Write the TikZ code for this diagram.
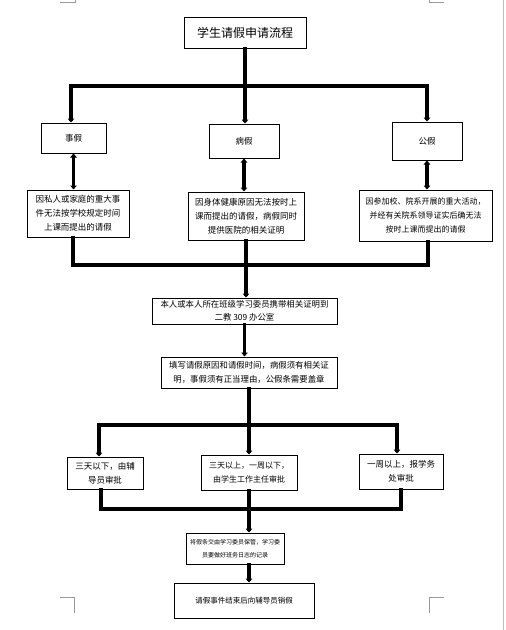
\documentclass[tikz,border=0pt]{standalone}
\usepackage{fontspec}
\newfontfamily\cjk{Noto Sans CJK SC}
\usetikzlibrary{arrows.meta}
\tikzset{
  box/.style={draw, line width=1pt, fill=white, inner sep=1pt, align=center,
    font=\cjk\fontsize{8.5}{14}\selectfont},
  conn/.style={line width=3.5pt, line cap=rect, -{Triangle[width=6.5pt,length=4pt]}},
  dconn/.style={line width=3.5pt, {Triangle[width=6.5pt,length=4pt]}-{Triangle[width=6.5pt,length=4pt]}},
  plain/.style={line width=3.5pt, line cap=rect},
  mark/.style={draw=gray!80, line width=0.8pt}
}
\begin{document}
\begin{tikzpicture}[x=1pt,y=-1pt]
\useasboundingbox (0,0) rectangle (506,630);
\fill[white] (0,0) rectangle (506,630);
% page marks
\draw[draw=gray!80, line width=0.8pt] (60,2) -- (75,2) -- (75,0);
\draw[draw=gray!80, line width=0.8pt] (444,2) -- (429,2) -- (429,0);
\draw[draw=gray!80, line width=0.8pt] (60,597) -- (74,597) -- (74,613);
\draw[draw=gray!80, line width=0.8pt] (444,597) -- (429,597) -- (429,613);
\draw[draw=gray!50, line width=0.8pt] (503,0) -- (503,630);

% nodes
\node[box, minimum width=122pt, minimum height=31pt, font=\cjk\fontsize{12}{14}\selectfont] (title) at (245,32.5) {学生请假申请流程};
\node[box, minimum width=65pt, minimum height=30pt] (shi) at (73.5,138) {事假};
\node[box, minimum width=70pt, minimum height=34pt] (bing) at (244,141) {病假};
\node[box, minimum width=70pt, minimum height=38pt] (gong) at (427,141) {公假};
\node[box, minimum width=102pt, minimum height=47pt] (d1) at (78,213.5) {因私人或家庭的重大事\\件无法按学校规定时间\\上课而提出的请假};
\node[box, minimum width=116pt, minimum height=48pt] (d2) at (246,216) {因身体健康原因无法按时上\\课而提出的请假，病假同时\\提供医院的相关证明};
\node[box, minimum width=133pt, minimum height=51pt, font=\cjk\fontsize{8}{14}\selectfont] (d3) at (425.5,215.5) {因参加校、院系开展的重大活动，\\并经有关院系领导证实后确无法\\按时上课而提出的请假};
\node[box, minimum width=185pt, minimum height=26pt, font=\cjk\fontsize{8.4}{13}\selectfont] (b1) at (244.5,311) {本人或本人所在班级学习委员携带相关证明到\\二教 309 办公室};
\node[box, minimum width=176pt, minimum height=31pt, font=\cjk\fontsize{8.4}{14}\selectfont] (b2) at (249,372.5) {填写请假原因和请假时间，病假须有相关证\\明，事假须有正当理由，公假条需要盖章};
\node[box, minimum width=76pt, minimum height=32pt] (e1) at (105,473) {三天以下，由辅\\导员审批};
\node[box, minimum width=96pt, minimum height=35pt, font=\cjk\fontsize{8}{14}\selectfont] (e2) at (249,472.5) {三天以上，一周以下，\\由学生工作主任审批};
\node[box, minimum width=84pt, minimum height=35pt] (e3) at (401,471.5) {一周以上，报学务\\处审批};
\node[box, minimum width=98pt, minimum height=31pt, font=\cjk\fontsize{6}{13}\selectfont] (f1) at (235,548.5) {将假条交由学习委员保管，学习委\\员要做好班务日志的记录};
\node[box, minimum width=140pt, minimum height=35pt, font=\cjk\fontsize{7.5}{14}\selectfont] (f2) at (244,600.5) {请假事件结束后向辅导员销假};

% bar coordinates
\coordinate (bar1L) at (71,86);
\coordinate (bar1R) at (427,86);
\coordinate (bar2L) at (73,265);
\coordinate (bar2R) at (428,265);
\coordinate (bar3L) at (99,425);
\coordinate (bar3R) at (397,425);
\coordinate (bar4L) at (101,509);
\coordinate (bar4R) at (401,509);

% level 1
\draw[plain] (title.south) -- (title.south |- bar1L);
\draw[plain] (bar1L) -- (bar1R);
\draw[conn] (bar1L) -- (bar1L |- shi.north);
\draw[conn] (title.south |- bar1L) -- (title.south |- bing.north);
\draw[conn] (bar1R) -- (bar1R |- gong.north);
\draw[dconn] (shi.south) -- (shi.south |- d1.north);
\draw[dconn] (bing.south) -- (bing.south |- d2.north);
\draw[dconn] (gong.south) -- (gong.south |- d3.north);

% level 2
\draw[plain] (bar2L |- d1.south) -- (bar2L);
\draw[plain] (d2.south) -- (d2.south |- bar2L);
\draw[plain] (bar2R |- d3.south) -- (bar2R);
\draw[plain] (bar2L) -- (bar2R);
\draw[conn] (d2.south |- bar2L) -- (d2.south |- b1.north);
\draw[conn] (b1.south) -- (b1.south |- b2.north);

% level 3
\draw[plain] (b2.south) -- (b2.south |- bar3L);
\draw[plain] (bar3L) -- (bar3R);
\draw[conn] (bar3L) -- (bar3L |- e1.north);
\draw[conn] (b2.south |- bar3L) -- (b2.south |- e2.north);
\draw[conn] (bar3R) -- (bar3R |- e3.north);

% level 4
\draw[plain] (bar4L |- e1.south) -- (bar4L);
\draw[plain] (e2.south) -- (e2.south |- bar4L);
\draw[plain] (bar4R |- e3.south) -- (bar4R);
\draw[plain] (bar4L) -- (bar4R);
\draw[conn] (e2.south |- bar4L) -- (e2.south |- f1.north);
\draw[conn] (e2.south |- f1.south) -- (e2.south |- f2.north);
\end{tikzpicture}
\end{document}
